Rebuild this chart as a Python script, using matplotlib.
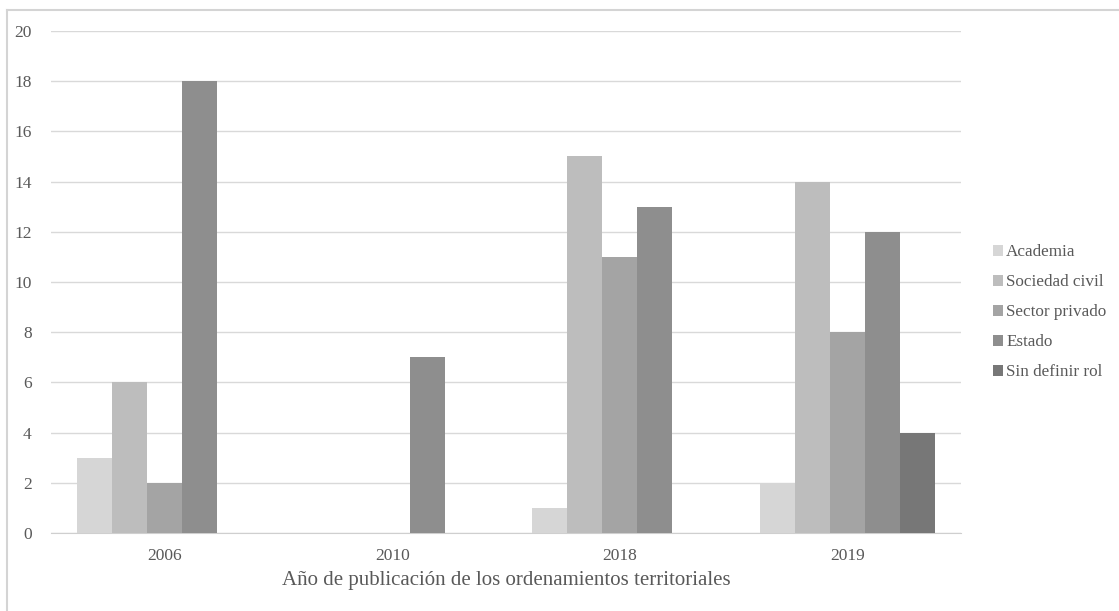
import numpy as np
import matplotlib
matplotlib.use('Agg')
import matplotlib.pyplot as plt
from matplotlib.lines import Line2D

plt.rcParams['font.family'] = ['Liberation Serif', 'DejaVu Serif']

years     = ['2006', '2010', '2018', '2019']
series    = ['Academia', 'Sociedad civil', 'Sector privado', 'Estado', 'Sin definir rol']
academia  = [3, 0, 1, 2]
sociedad  = [6, 0, 15, 14]
privado   = [2, 0, 11, 8]
estado    = [18, 7, 13, 12]
sin_rol   = [0, 0, 0, 4]
colors    = ['#d6d6d6', '#bdbdbd', '#a4a4a4', '#8e8e8e', '#777777']

text_color = '#595959'
grid_color = '#d9d9d9'

fig = plt.figure(figsize=(11.19, 6.11), dpi=100)
ax = fig.add_axes([0.0456, 0.1277, 0.8134, 0.8216])

x = np.arange(len(years))
width = 0.154
values = [academia, sociedad, privado, estado, sin_rol]
for i, (name, vals) in enumerate(zip(series, values)):
    ax.bar(x + (i - 2) * width, vals, width, color=colors[i], label=name, zorder=3)

ax.set_xlim(-0.5, len(years) - 0.5)
ax.set_ylim(0, 20)
ax.set_yticks(range(0, 21, 2))
ax.set_xticks(x)
ax.set_xticklabels(years)
ax.yaxis.grid(True, color=grid_color, linewidth=1, zorder=0)
for s in ['top', 'right', 'left']:
    ax.spines[s].set_visible(False)
ax.spines['bottom'].set_color('#cfcfcf')
ax.tick_params(axis='both', length=0, labelsize=12.5, colors=text_color)
ax.tick_params(axis='x', pad=11)
ax.tick_params(axis='y', pad=14)
ax.set_xlabel('Año de publicación de los ordenamientos territoriales',
              fontsize=15, color=text_color, labelpad=5)

leg = ax.legend(loc='center left', bbox_to_anchor=(984 / 1119, 0.489),
                bbox_transform=fig.transFigure, frameon=False, fontsize=12.3,
                handlelength=0.6, handleheight=0.6, handletextpad=0.2,
                labelspacing=0.82, borderpad=0)
for t in leg.get_texts():
    t.set_color(text_color)

# outer chart frame (top and left edges visible in the crop)
fig.add_artist(Line2D([7 / 1119, 1], [1 - 10 / 611, 1 - 10 / 611],
                      transform=fig.transFigure, color='#d4d4d4', linewidth=1.5))
fig.add_artist(Line2D([7 / 1119, 7 / 1119], [0, 1 - 10 / 611],
                      transform=fig.transFigure, color='#d4d4d4', linewidth=1.5))

fig.savefig('out.png', dpi=100)
